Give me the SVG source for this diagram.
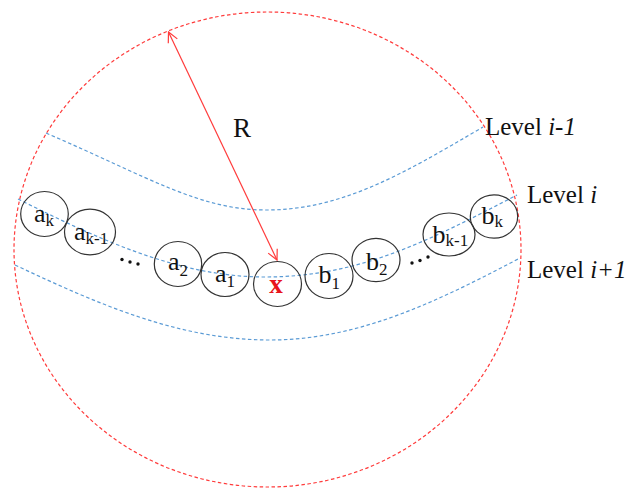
<svg xmlns="http://www.w3.org/2000/svg" width="627" height="489" viewBox="0 0 627 489">
<style>
.bound{fill:none;stroke:#ff3b3b;stroke-width:1.2;stroke-dasharray:3.5,2.5}
.lvl{fill:none;stroke:#5b9bd5;stroke-width:1.2;stroke-dasharray:3.5,2.5}
.nd{fill:none;stroke:#333;stroke-width:1.2}
text{font-family:'Liberation Serif','DejaVu Serif',serif;fill:#111}
.lab{font-size:26px}
.sub{font-size:17px}
.lv{font-size:25px}
</style>
<defs>
<marker id="ah" viewBox="0 0 12 12" refX="11" refY="6" markerWidth="12" markerHeight="12" markerUnits="userSpaceOnUse" orient="auto-start-reverse">
<path d="M1,1 L11,6 L1,11" fill="none" stroke="#ff3b3b" stroke-width="1.2"/>
</marker>
</defs>
<g id="boundary">
<ellipse class="bound" cx="267.5" cy="249.5" rx="253.5" ry="237.5"/>
</g>
<g id="connectors">
<path class="lvl" d="M46,133 C150,178 200,210 266,210 C340,210 400,176 483,127"/>
<path class="lvl" d="M18,199 C100,240 180,277 265,277 C360,277 430,240 517,195"/>
<path class="lvl" d="M15,265 C100,305 180,340 270,340 C360,340 440,300 520,258"/>
<line x1="168.5" y1="32" x2="277" y2="260" stroke="#ff3b3b" stroke-width="1.2" marker-start="url(#ah)" marker-end="url(#ah)"/>
</g>
<g id="node-ak"><ellipse class="nd" cx="44.5" cy="214" rx="23.8" ry="22.5"/><text class="lab" x="34" y="222">a<tspan class="sub" dy="4">k</tspan></text></g>
<g id="node-ak1"><ellipse class="nd" cx="90" cy="232" rx="25.5" ry="22.8"/><text class="lab" x="74" y="240">a<tspan class="sub" dy="4">k-1</tspan></text></g>
<g id="node-a2"><ellipse class="nd" cx="178" cy="264" rx="23.7" ry="22.5"/><text class="lab" x="168" y="270">a<tspan class="sub" dy="6">2</tspan></text></g>
<g id="node-a1"><ellipse class="nd" cx="225" cy="274.5" rx="24" ry="22"/><text class="lab" x="215" y="281.5">a<tspan class="sub" dy="5">1</tspan></text></g>
<g id="node-x"><ellipse class="nd" cx="277.5" cy="284" rx="24" ry="22.5"/><text x="276" y="293" font-size="27" font-weight="bold" style="fill:#e8141c" text-anchor="middle">x</text></g>
<g id="node-b1"><ellipse class="nd" cx="329" cy="276" rx="24" ry="22.5"/><text class="lab" x="318.5" y="283">b<tspan class="sub" dy="6">1</tspan></text></g>
<g id="node-b2"><ellipse class="nd" cx="376" cy="260" rx="24" ry="21.7"/><text class="lab" x="366" y="270">b<tspan class="sub" dy="5">2</tspan></text></g>
<g id="node-bk1"><ellipse class="nd" cx="449" cy="234.5" rx="26" ry="21.5"/><text class="lab" x="432.5" y="243">b<tspan class="sub" dy="3">k-1</tspan></text></g>
<g id="node-bk"><ellipse class="nd" cx="494" cy="216.5" rx="23.7" ry="21.7"/><text class="lab" x="481.5" y="224">b<tspan class="sub" dy="3">k</tspan></text></g>
<g id="dots">
<circle cx="122" cy="259.5" r="1.7" fill="#111"/><circle cx="130" cy="262" r="1.7" fill="#111"/><circle cx="138" cy="264" r="1.7" fill="#111"/>
<circle cx="412" cy="263" r="1.7" fill="#111"/><circle cx="420" cy="260.5" r="1.7" fill="#111"/><circle cx="428" cy="257" r="1.7" fill="#111"/>
</g>
<g id="labels">
<text x="233" y="137" font-size="27">R</text>
<text class="lv" x="485" y="135">Level <tspan font-style="italic">i-1</tspan></text>
<text class="lv" x="527" y="203">Level <tspan font-style="italic">i</tspan></text>
<text class="lv" x="527" y="278">Level <tspan font-style="italic">i+1</tspan></text>
</g>
</svg>
